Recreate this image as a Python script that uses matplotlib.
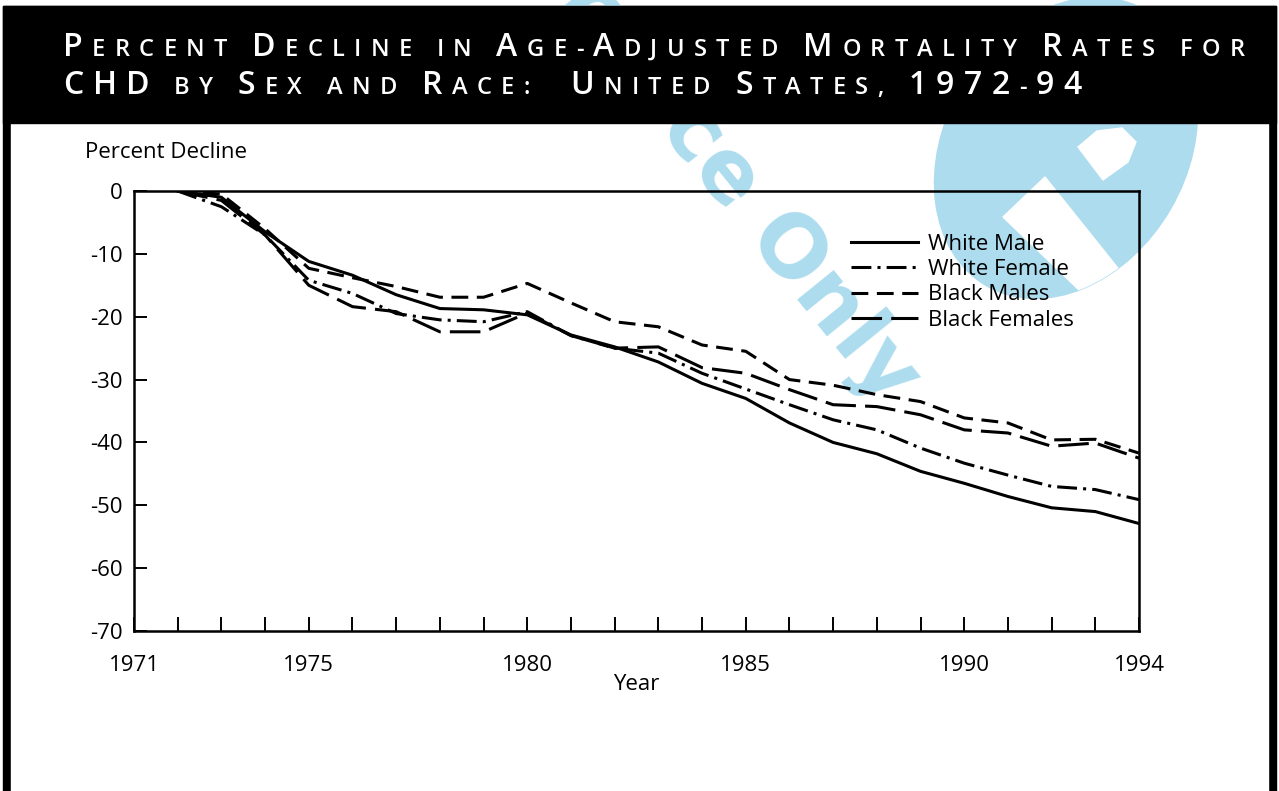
import matplotlib
matplotlib.use("Agg")
import matplotlib.pyplot as plt
from matplotlib.patches import Rectangle, Ellipse, Polygon
from matplotlib.transforms import IdentityTransform

W, H = 1279, 791

# data (percent decline since 1972)
years = list(range(1972, 1995))
white_male = [0, -1.0, -6.5, -11.2, -13.4, -16.5, -18.7, -18.9, -19.7, -22.9, -24.8, -27.2,
              -30.6, -33.0, -36.9, -40.0, -41.8, -44.6, -46.5, -48.6, -50.4, -51.0, -52.9]
white_female = [0, -2.5, -7.0, -14.2, -16.3, -19.5, -20.5, -20.8, -19.2, -23.0, -25.0, -25.8,
                -29.0, -31.5, -34.0, -36.4, -38.0, -40.9, -43.3, -45.2, -47.0, -47.5, -49.1]
black_males = [0, -0.5, -6.0, -12.3, -13.8, -15.2, -16.9, -16.9, -14.7, -17.8, -20.8, -21.6,
               -24.5, -25.5, -30.0, -30.9, -32.4, -33.5, -36.1, -36.9, -39.6, -39.5, -41.7]
black_females = [0, -1.5, -7.0, -15.0, -18.4, -19.2, -22.4, -22.4, -19.4, -23.0, -25.0, -24.8,
                 -28.1, -29.0, -31.6, -34.0, -34.3, -35.6, -38.0, -38.5, -40.6, -40.1, -42.5]
series = [white_male, white_female, black_males, black_females]
labels = ["White Male", "White Female", "Black Males", "Black Females"]

x_label_years = [1971, 1975, 1980, 1985, 1990, 1994]
y_ticks = [0, -10, -20, -30, -40, -50, -60, -70]

title_lines = ["Percent Decline in Age-Adjusted Mortality Rates for",
               "CHD by Sex and Race:  United States, 1972-94"]

plt.rcParams['font.family'] = ['Open Sans', 'DejaVu Sans']

fig = plt.figure(figsize=(W / 100, H / 100), dpi=100)


def fx(px):
    return px / W


def fy(py):
    return 1 - py / H


# black frame with white inside
fig.add_artist(Rectangle((fx(3), 0), fx(1276) - fx(3), fy(6), color='black', zorder=-5))
fig.add_artist(Rectangle((fx(11), 0), fx(1268) - fx(11), fy(123), color='white', zorder=-4))

# light blue watermark (pixel coordinates, y up)
wm = '#acdcee'
pix = IdentityTransform()
ell = Ellipse((1066, H - 148), 318, 242, angle=60, color=wm, zorder=-2, transform=pix)
fig.add_artist(ell)
for pts in [[(1003, 217), (1045, 177), (1141, 297), (1105, 315)],
            [(1078, 147), (1103, 180), (1128, 162), (1136, 142), (1122, 128), (1097, 131)]]:
    pg = Polygon([(x, H - y) for x, y in pts], closed=True, color='white', zorder=-1.9,
                 transform=pix)
    fig.add_artist(pg)
    pg.set_clip_path(ell)
fig.text(fx(884), fy(408), "Reference Only", rotation=-51, rotation_mode='anchor',
         ha='right', va='baseline', fontsize=62, fontweight='bold', color=wm, zorder=-2,
         family='DejaVu Sans')

# title band
fig.add_artist(Rectangle((fx(3), fy(123)), fx(1276) - fx(3), fy(6) - fy(123), color='black',
                         zorder=1))

renderer = fig.canvas.get_renderer()
big, small = 23, 17


def char_width(ch, size):
    t = fig.text(0, 0, ch, fontsize=size, fontweight='semibold')
    w = t.get_window_extent(renderer).width
    t.remove()
    return w


def line_widths(line):
    out = []
    for ch in line:
        size = big if (ch.isupper() or ch.isdigit()) else small
        if ch == ' ':
            out.append(char_width('I I', size) - char_width('II', size))
        else:
            out.append(char_width(ch.upper(), size))
    return out


w1 = line_widths(title_lines[0])
spacing = (1182 - sum(w1)) / (len(w1) - 1)

for line, base in zip(title_lines, [56, 94]):
    x = 63
    for ch, w in zip(line, line_widths(line)):
        size = big if (ch.isupper() or ch.isdigit()) else small
        if ch != ' ':
            fig.text(fx(x), fy(base), ch.upper(), fontsize=size, fontweight='semibold',
                     color='white', ha='left', va='baseline', zorder=3)
        x += w + spacing

# chart
ax = fig.add_axes([fx(134), fy(631), fx(1139) - fx(134), fy(191) - fy(631)])
ax.patch.set_visible(False)
styles = ['-', (0, (6.5, 2, 1, 2)), (0, (5.5, 2.8)), (0, (10, 3))]
for vals, lab, ls in zip(series, labels, styles):
    ax.plot(years, vals, color='black', lw=2.2, linestyle=ls, label=lab)

ax.set_xlim(1971, 1994)
ax.set_ylim(-70, 0)
ax.set_xticks(range(1971, 1995))
ax.set_xticklabels([str(y) if y in x_label_years else '' for y in range(1971, 1995)])
ax.set_yticks(y_ticks)
ax.set_yticklabels([str(v) for v in y_ticks])
fs = 16
ax.tick_params(axis='x', direction='in', length=10, width=1.4, pad=17, labelsize=fs)
ax.tick_params(axis='y', direction='in', length=9, width=1.4, pad=8, labelsize=fs)
for s in ax.spines.values():
    s.set_linewidth(1.8)

ax.set_xlabel("Year", fontsize=fs, labelpad=-1)
fig.text(fx(85), fy(153), "Percent Decline", fontsize=fs, ha='left', va='center')

ax.legend(loc='upper left', bbox_to_anchor=(fx(851), fy(234)), bbox_transform=fig.transFigure,
          frameon=False, handlelength=3.0, handletextpad=0.45, labelspacing=0.19,
          borderpad=0, borderaxespad=0, fontsize=fs)

fig.savefig("out.png", dpi=100)
